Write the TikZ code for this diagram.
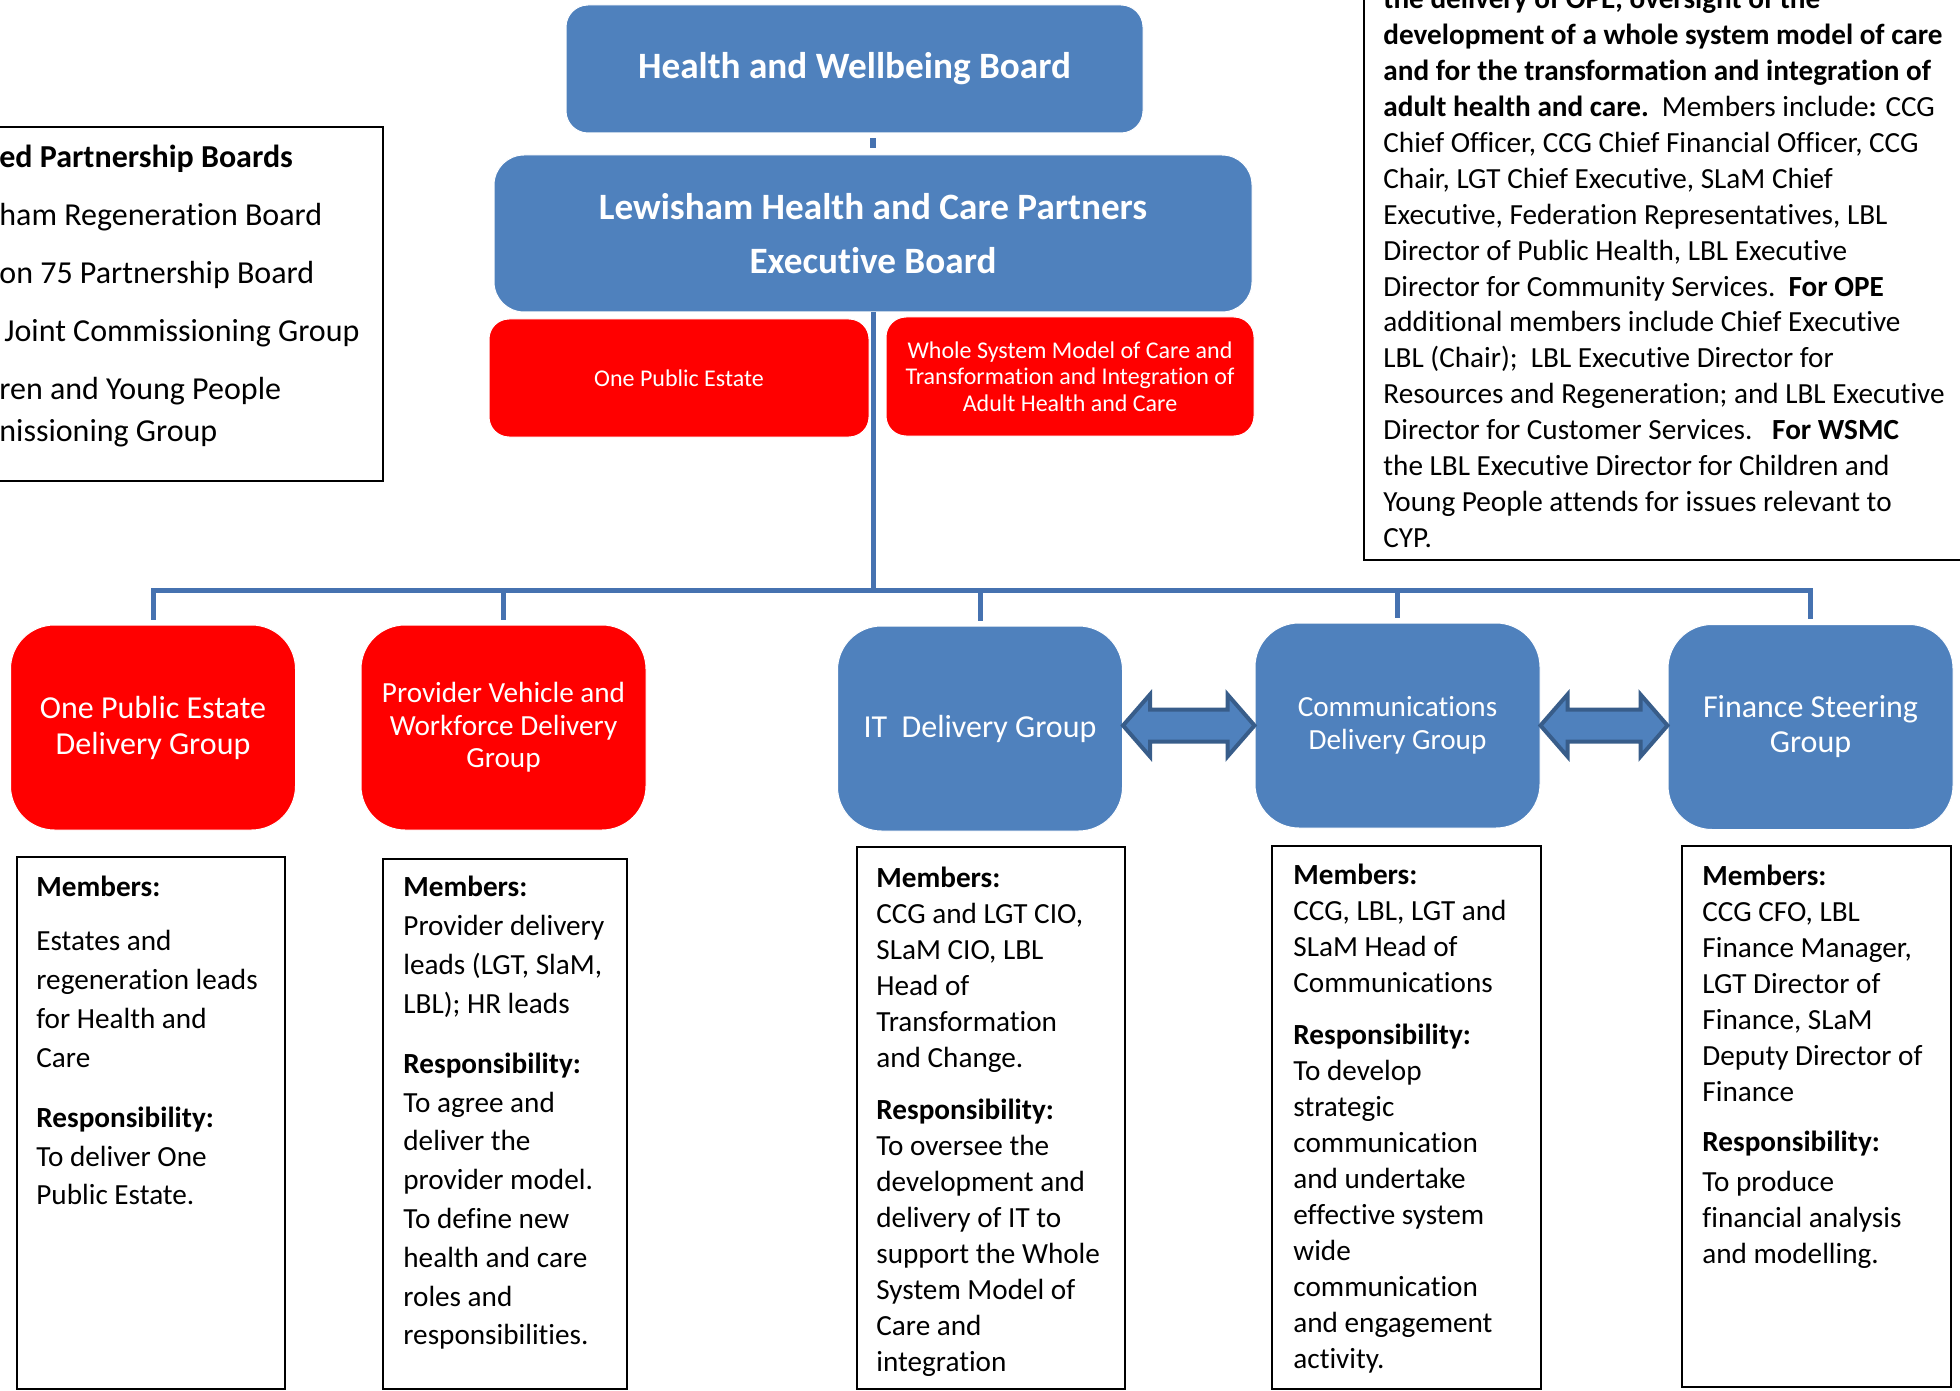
\documentclass[tikz,border=0pt]{standalone}
\usepackage{fontspec}
\setmainfont{Carlito}[Ligatures=NoCommon]
\usetikzlibrary{calc}
\definecolor{boardblue}{HTML}{4F81BD}
\definecolor{linkblue}{HTML}{4672B0}
\definecolor{arrowedge}{HTML}{385D8A}
\definecolor{groupred}{HTML}{FF0000}
\begin{document}
\begin{tikzpicture}[x=0.5pt,y=-0.5pt,
    board/.style={fill=boardblue,draw=white,line width=0.5pt,text=white,align=center,inner sep=0pt},
    redboard/.style={board,fill=groupred},
    groupbox/.style={rounded corners=22pt,minimum width=142.5pt,minimum height=102.5pt},
    link/.style={draw=linkblue,line width=2.5pt},
    dblarrow/.style={fill=boardblue,draw=arrowedge,line width=2pt},
    infobox/.style={draw=black,line width=1pt},
    bodytext/.style={anchor=north west,align=left,inner sep=0pt,execute at begin node=\strut}]
  \useasboundingbox (0,0) rectangle (1960,1391);

  \node[board,rounded corners=11pt,minimum width=288.5pt,minimum height=64pt,font=\bfseries\fontsize{18.6}{27}\selectfont] (hwb) at (854.5,69) {Health and Wellbeing Board};
  \node[board,rounded corners=15pt,minimum width=379pt,minimum height=78.5pt,font=\bfseries\fontsize{18.6}{27}\selectfont] (lhcp) at (873,233.5) {Lewisham Health and Care Partners\\Executive Board};
  \node[redboard,rounded corners=10pt,minimum width=190pt,minimum height=59pt,font=\fontsize{12}{13.25}\selectfont] (ope) at (679,378) {One Public Estate};
  \node[redboard,rounded corners=10pt,minimum width=184pt,minimum height=59.5pt,font=\fontsize{12}{13.25}\selectfont] (wsmc) at (1070,376.5) {Whole System Model of Care and\\Transformation and Integration of\\Adult Health and Care};

  \node[redboard,groupbox,font=\fontsize{16}{18}\selectfont] (opedg) at (153,727.5) {One Public Estate\\Delivery Group};
  \node[redboard,groupbox,font=\fontsize{14.6}{16.25}\selectfont] (provider) at (503.5,727.5) {Provider Vehicle and\\Workforce Delivery\\Group};
  \node[board,groupbox,font=\fontsize{16}{18}\selectfont] (itdg) at (980,728.5) {IT\ \ Delivery Group};
  \node[board,groupbox,font=\fontsize{14.6}{16.25}\selectfont] (comms) at (1397.5,725.5) {Communications\\Delivery Group};
  \node[board,groupbox,font=\fontsize{16}{17.5}\selectfont] (finance) at (1810.5,727) {Finance Steering\\Group};

  \draw[link,line width=3pt] ([yshift=-2.5pt]hwb.south -| lhcp.north) -- ([yshift=3pt]lhcp.north);
  \coordinate (bus) at (873,590);
  \draw[link] (lhcp.south) -- (bus);
  \draw[link] ([yshift=2.5pt]opedg.north) -- (opedg.north |- bus) -- (finance.north |- bus) -- ([yshift=2.5pt]finance.north);
  \draw[link] (provider.north |- bus) -- ([yshift=2.5pt]provider.north);
  \draw[link] (itdg.north |- bus) -- ([yshift=2.5pt]itdg.north);
  \draw[link] (comms.north |- bus) -- ([yshift=2.5pt]comms.north);

  \coordinate (itend) at (itdg.east |- comms.west);
  \coordinate (finend) at (finance.west |- comms.east);
  \draw[dblarrow] (itend) -- ++(27,-31) -- ++(0,15) -- ($(comms.west)+(-27,-16)$) -- ++(0,-15) -- (comms.west) -- ++(-27,31) -- ++(0,-15) -- ($(itend)+(27,16)$) -- ++(0,15) -- cycle;
  \draw[dblarrow] (comms.east) -- ++(27,-31) -- ++(0,15) -- ($(finend)+(-27,-16)$) -- ++(0,-15) -- (finend) -- ++(-27,31) -- ++(0,-15) -- ($(comms.east)+(27,16)$) -- ++(0,15) -- cycle;

  \draw[infobox] (-10,127) rectangle (383,481);
  \draw[infobox] (1364,-10) rectangle (1975,560);
  \draw[infobox] (17,857) rectangle (285,1389);
  \draw[infobox] (383,859) rectangle (627,1389);
  \draw[infobox] (857,847) rectangle (1125,1389);
  \draw[infobox] (1272,846) rectangle (1541,1389);
  \draw[infobox] (1682,846) rectangle (1951,1387);

  \node[bodytext,font=\fontsize{16}{21}\selectfont] (linked) at (-1,145) {\textbf{ed Partnership Boards}\\[8pt]ham Regeneration Board\\[8pt]on 75 Partnership Board\\[8pt]\hspace{2.5pt}Joint Commissioning Group\\[8pt]ren and Young People\\nissioning Group};
  \node[bodytext,font=\fontsize{14.6}{17.95}\selectfont] (remit) at (1383,-12) {\textbf{the delivery of OPE, oversight of the}\\
    \textbf{development of a whole system model of care}\\
    \textbf{and for the transformation and integration of}\\
    \textbf{adult health and care.}\ \ Members include\textbf{:} CCG\\
    Chief Officer, CCG Chief Financial Officer, CCG\\
    Chair, LGT Chief Executive, SLaM Chief\\
    Executive, Federation Representatives, LBL\\
    Director of Public Health, LBL Executive\\
    Director for Community Services.\ \ \textbf{For OPE}\\
    additional members include Chief Executive\\
    LBL (Chair);\ \ LBL Executive Director for\\
    Resources and Regeneration; and LBL Executive\\
    Director for Customer Services.\ \ \ \textbf{For WSMC}\\
    the LBL Executive Director for Children and\\
    Young People attends for issues relevant to\\
    CYP.};

  \node[bodytext,font=\fontsize{14.6}{19.4}\selectfont] (opetext) at (36,876) {\textbf{Members:}\\[7.6pt]Estates and\\regeneration leads\\for Health and\\Care\\[10.6pt]\textbf{Responsibility:}\\To deliver One\\Public Estate.};
  \node[bodytext,font=\fontsize{14.6}{19.4}\selectfont] (providertext) at (403,876) {\textbf{Members:}\\Provider delivery\\leads (LGT, SlaM,\\LBL); HR leads\\[10.6pt]\textbf{Responsibility:}\\To agree and\\deliver the\\provider model.\\To define new\\health and care\\roles and\\responsibilities.};
  \node[bodytext,font=\fontsize{14.6}{18}\selectfont] (ittext) at (876,867) {\textbf{Members:}\\CCG and LGT CIO,\\SLaM CIO, LBL\\Head of\\Transformation\\and Change.\\[8pt]\textbf{Responsibility:}\\To oversee the\\development and\\delivery of IT to\\support the Whole\\System Model of\\Care and\\integration};
  \node[bodytext,font=\fontsize{14.6}{18}\selectfont] (commstext) at (1293,864) {\textbf{Members:}\\CCG, LBL, LGT and\\SLaM Head of\\Communications\\[8pt]\textbf{Responsibility:}\\To develop\\strategic\\communication\\and undertake\\effective system\\wide\\communication\\and engagement\\activity.};
  \node[bodytext,font=\fontsize{14.6}{18}\selectfont] (financetext) at (1702,865) {\textbf{Members:}\\CCG CFO, LBL\\Finance Manager,\\LGT Director of\\Finance, SLaM\\Deputy Director of\\Finance\\[7pt]\textbf{Responsibility:}\\[2pt]To produce\\financial analysis\\and modelling.};
\end{tikzpicture}
\end{document}
